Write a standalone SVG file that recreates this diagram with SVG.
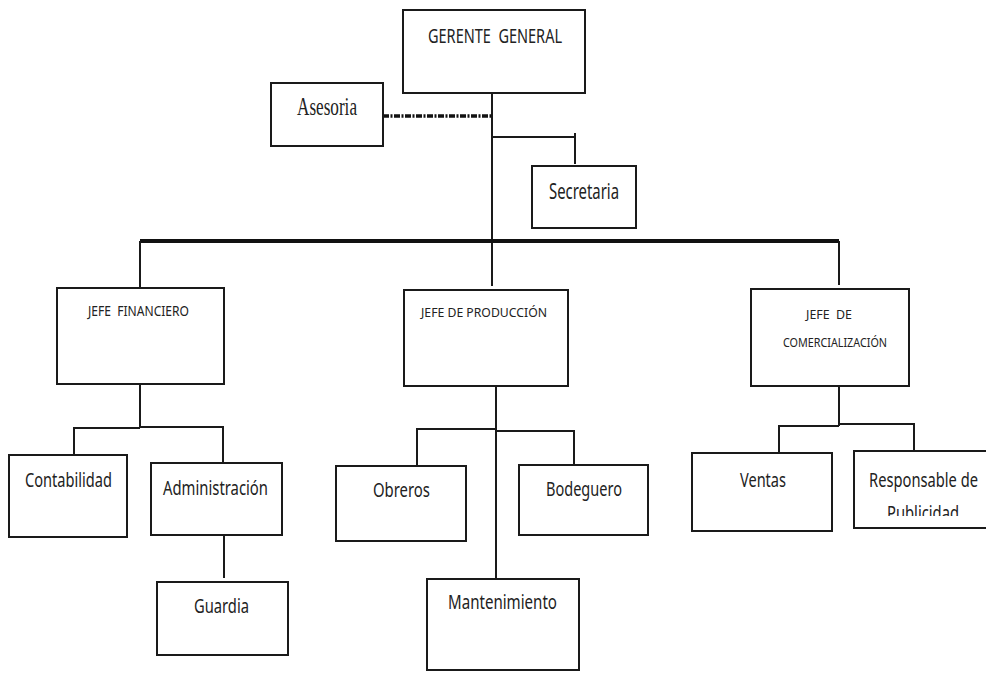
<svg xmlns="http://www.w3.org/2000/svg" width="986" height="673" viewBox="0 0 986 673">
  <style>
    .box { fill: #ffffff; stroke: #1a1a1a; stroke-width: 2; }
    .ln { fill: none; stroke: #1a1a1a; stroke-width: 2; }
    .bar { fill: none; stroke: #111111; stroke-width: 4; }
    .staff { fill: none; stroke: #111111; stroke-width: 3.5; stroke-dasharray: 6 1.5 2 1.5; }
    .t { font-family: "Noto Sans", "Liberation Sans", sans-serif; fill: #222222; white-space: pre; }
    .serif { font-family: "Liberation Serif", serif; fill: #222222; }
  </style>
  <defs>
    <clipPath id="cutPublicidad">
      <rect x="854" y="451" width="132" height="65"/>
    </clipPath>
  </defs>
  <rect width="986" height="673" fill="#ffffff"/>

  <!-- connectors -->
  <g id="connectors">
    <line class="ln" x1="492" y1="93" x2="492" y2="286"/>
    <line class="staff" x1="383" y1="116" x2="492" y2="116"/>
    <polyline class="ln" points="492,137 575,137"/>
    <line class="ln" x1="575" y1="133" x2="575" y2="164"/>
    <line class="bar" x1="140" y1="241" x2="839" y2="241"/>
    <line class="ln" x1="140" y1="241" x2="140" y2="288"/>
    <line class="ln" x1="839" y1="241" x2="839" y2="285"/>

    <!-- finance branch -->
    <line class="ln" x1="140" y1="384" x2="140" y2="428"/>
    <polyline class="ln" points="74,455 74,428 140,428"/>
    <polyline class="ln" points="140,427 223,427 223,463"/>
    <line class="ln" x1="224" y1="535" x2="224" y2="578"/>

    <!-- production branch -->
    <line class="ln" x1="496" y1="386" x2="496" y2="579"/>
    <polyline class="ln" points="417,466 417,429 496,429"/>
    <polyline class="ln" points="496,431 574,431 574,465"/>

    <!-- marketing branch -->
    <line class="ln" x1="839" y1="386" x2="839" y2="426"/>
    <polyline class="ln" points="779,453 779,426 839,426"/>
    <polyline class="ln" points="839,424 914,424 914,451"/>
  </g>

  <g id="gerente-general">
    <rect class="box" x="403" y="10" width="182" height="83"/>
    <text class="t" x="428" y="43" font-size="20" textLength="134" lengthAdjust="spacingAndGlyphs">GERENTE  GENERAL</text>
  </g>

  <g id="asesoria">
    <rect class="box" x="271" y="83" width="112" height="63"/>
    <text class="serif" x="297" y="115" font-size="25" textLength="60" lengthAdjust="spacingAndGlyphs">Asesoria</text>
  </g>

  <g id="secretaria">
    <rect class="box" x="532" y="166" width="104" height="62"/>
    <text class="t" x="549" y="199" font-size="21" textLength="70" lengthAdjust="spacingAndGlyphs">Secretaria</text>
  </g>

  <g id="jefe-financiero">
    <rect class="box" x="57" y="288" width="167" height="96"/>
    <text class="t" x="88" y="316" font-size="14" textLength="101" lengthAdjust="spacingAndGlyphs">JEFE  FINANCIERO</text>
  </g>

  <g id="jefe-produccion">
    <rect class="box" x="404" y="290" width="164" height="96"/>
    <text class="t" x="421" y="317" font-size="13" textLength="126" lengthAdjust="spacingAndGlyphs">JEFE DE PRODUCCIÓN</text>
  </g>

  <g id="jefe-comercializacion">
    <rect class="box" x="751" y="289" width="158" height="97"/>
    <text class="t" x="806" y="319" font-size="13" textLength="46" lengthAdjust="spacingAndGlyphs">JEFE  DE</text>
    <text class="t" x="783" y="347" font-size="13" textLength="104" lengthAdjust="spacingAndGlyphs">COMERCIALIZACIÓN</text>
  </g>

  <g id="contabilidad">
    <rect class="box" x="9" y="455" width="118" height="82"/>
    <text class="t" x="25" y="487" font-size="19" textLength="87" lengthAdjust="spacingAndGlyphs">Contabilidad</text>
  </g>

  <g id="administracion">
    <rect class="box" x="151" y="463" width="131" height="72"/>
    <text class="t" x="163" y="495" font-size="19" textLength="105" lengthAdjust="spacingAndGlyphs">Administración</text>
  </g>

  <g id="guardia">
    <rect class="box" x="157" y="582" width="131" height="73"/>
    <text class="t" x="194" y="613" font-size="19" textLength="55" lengthAdjust="spacingAndGlyphs">Guardia</text>
  </g>

  <g id="obreros">
    <rect class="box" x="336" y="466" width="130" height="75"/>
    <text class="t" x="373" y="497" font-size="19" textLength="57" lengthAdjust="spacingAndGlyphs">Obreros</text>
  </g>

  <g id="bodeguero">
    <rect class="box" x="519" y="465" width="129" height="70"/>
    <text class="t" x="546" y="496" font-size="19" textLength="76" lengthAdjust="spacingAndGlyphs">Bodeguero</text>
  </g>

  <g id="mantenimiento">
    <rect class="box" x="427" y="579" width="152" height="91"/>
    <text class="t" x="448" y="609" font-size="19" textLength="109" lengthAdjust="spacingAndGlyphs">Mantenimiento</text>
  </g>

  <g id="ventas">
    <rect class="box" x="692" y="453" width="140" height="78"/>
    <text class="t" x="740" y="487" font-size="19" textLength="46" lengthAdjust="spacingAndGlyphs">Ventas</text>
  </g>

  <g id="responsable-publicidad">
    <!-- box runs off the right edge, so only three sides are drawn -->
    <path class="box" d="M986,451 H854 V528 H986"/>
    <text class="t" x="869" y="487" font-size="20" textLength="109" lengthAdjust="spacingAndGlyphs">Responsable de</text>
    <text class="t" x="887" y="520" font-size="20" textLength="72" lengthAdjust="spacingAndGlyphs" clip-path="url(#cutPublicidad)">Publicidad</text>
  </g>
</svg>
